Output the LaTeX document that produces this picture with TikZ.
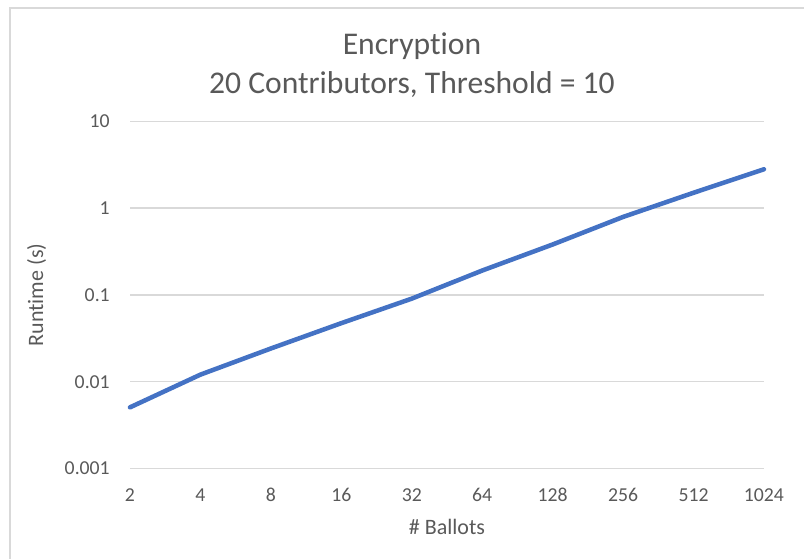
\documentclass[tikz,border=0pt]{standalone}
\usepackage{fontspec}
\setmainfont{Carlito}[Ligatures=NoCommon]
\definecolor{labelgray}{HTML}{595959}
\definecolor{gridgray}{HTML}{D9D9D9}
\definecolor{seriesblue}{HTML}{4472C4}
\begin{document}
\begin{tikzpicture}[x=0.75pt,y=-0.75pt,
  chartframe/.style={draw=gridgray,line width=1.5pt},
  gridline/.style={draw=gridgray,line width=1.1pt},
  seriesline/.style={draw=seriesblue,line width=3.4pt,line join=round,line cap=round},
  ticklabel/.style={text=labelgray,font=\fontsize{14.8}{17}\selectfont,inner sep=0pt},
  axistitle/.style={text=labelgray,font=\fontsize{16.5}{19}\selectfont,inner sep=0pt},
  charttitle/.style={text=labelgray,font=\fontsize{23.7}{28}\selectfont,inner sep=0pt}]
\useasboundingbox (0,0) rectangle (804,559);
\clip (0,0) rectangle (804,559);
% chart area border (runs off the right and bottom edges)
\draw[chartframe] (10,8) rectangle (840,600);

% title
\node[charttitle,anchor=base] (title1) at (412,55) {Encryption};
\node[charttitle,anchor=base] (title2) at (412,94) {20 Contributors, Threshold = 10};

% logarithmic value axis: one gridline per decade
\foreach \lab [count=\i from 0] in {10,1,0.1,0.01,0.001} {
  \pgfmathsetmacro{\gy}{121.3+86.75*\i}
  \draw[gridline] (130,\gy) -- (764,\gy);
  \node[ticklabel,anchor=base east] (ylab\i) at (110,\gy+6.5) {\lab};
}

% category axis
\foreach \lab [count=\i from 0] in {2,4,8,16,32,64,128,256,512,1024} {
  \pgfmathsetmacro{\gx}{130+70.44*\i}
  \node[ticklabel,anchor=base] (xlab\i) at (\gx,502) {\lab};
}

% axis titles
\node[axistitle,anchor=base,rotate=90] (ytitle) at (43,295) {Runtime (s)};
\node[axistitle,anchor=base] (xtitle) at (447,535) {\# Ballots};

% measured runtimes
\foreach \v [count=\i from 0] in {0.005,0.012,0.024,0.047,0.09,0.19,0.38,0.79,1.5,2.8} {
  \pgfmathsetmacro{\px}{130+70.44*\i}
  \pgfmathsetmacro{\py}{468.3-86.75*(log10(\v)+3)}
  \coordinate (p\i) at (\px,\py);
}
\draw[seriesline] (p0) -- (p1) -- (p2) -- (p3) -- (p4) -- (p5) -- (p6) -- (p7) -- (p8) -- (p9);
\end{tikzpicture}
\end{document}
